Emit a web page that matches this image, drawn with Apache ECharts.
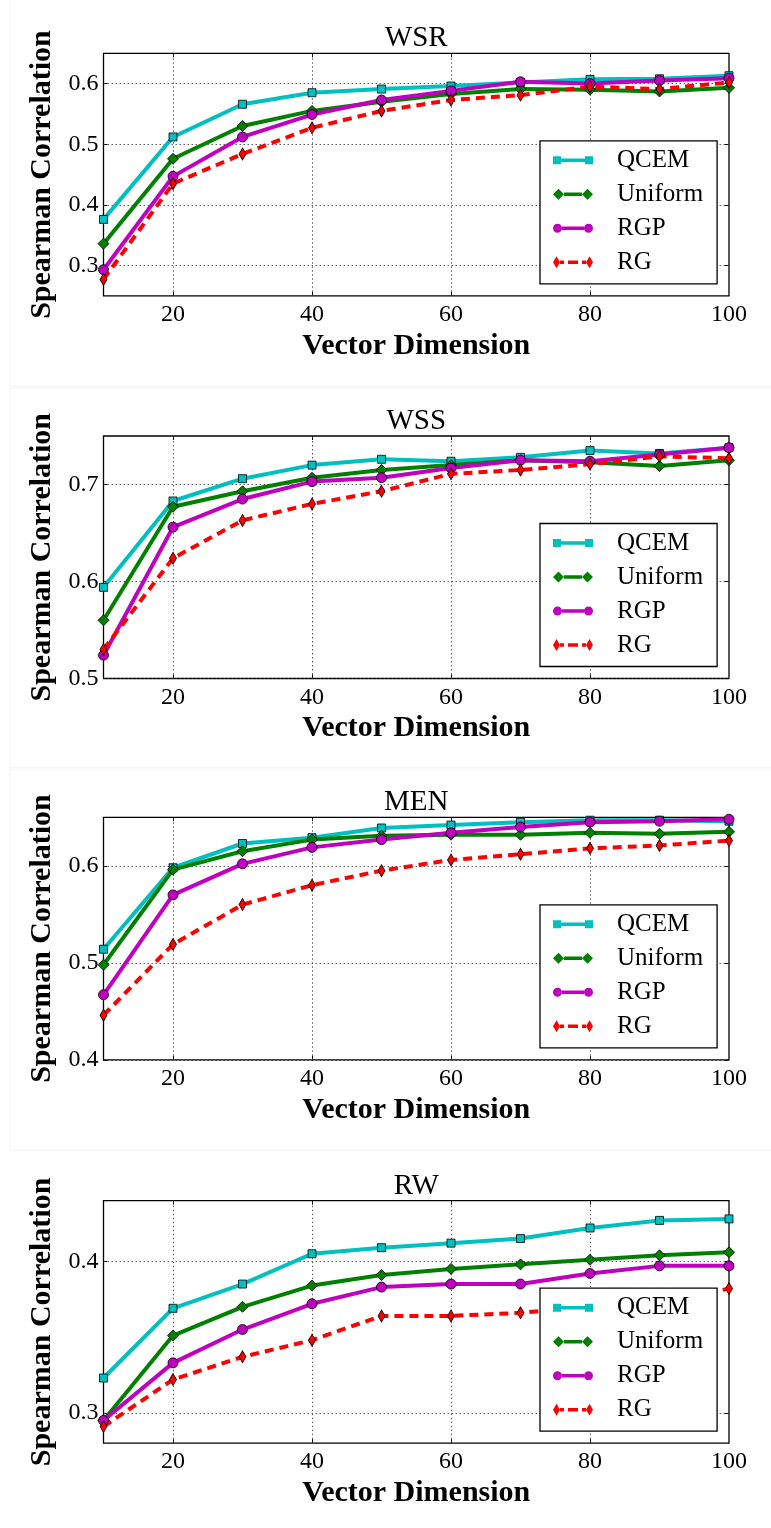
<!DOCTYPE html>
<html><head><meta charset="utf-8">
<script src="https://cdn.jsdelivr.net/npm/echarts@6/dist/echarts.min.js"></script>
<style>html,body{margin:0;padding:0;background:#fff}#c{width:771px;height:1528px}</style>
</head><body><div id="c"></div>
<script>
// ---------- data ----------
const dims = [10, 20, 30, 40, 50, 60, 70, 80, 90, 100];
const panelTitles = ['WSR', 'WSS', 'MEN', 'RW'];
const seriesNames = ['QCEM', 'Uniform', 'RGP', 'RG'];
const xTicks = [20, 40, 60, 80, 100];

const wsrQCEM    = [0.376, 0.512, 0.566, 0.585, 0.591, 0.596, 0.602, 0.607, 0.608, 0.613];
const wsrUniform = [0.336, 0.476, 0.530, 0.555, 0.570, 0.583, 0.591, 0.590, 0.587, 0.593];
const wsrRGP     = [0.293, 0.447, 0.512, 0.549, 0.573, 0.588, 0.603, 0.600, 0.605, 0.609];
const wsrRG      = [0.277, 0.435, 0.484, 0.527, 0.555, 0.573, 0.581, 0.595, 0.591, 0.602];

const wssQCEM    = [0.594, 0.683, 0.706, 0.720, 0.726, 0.724, 0.728, 0.735, 0.732, 0.738];
const wssUniform = [0.560, 0.677, 0.693, 0.707, 0.715, 0.720, 0.725, 0.723, 0.719, 0.725];
const wssRGP     = [0.524, 0.656, 0.685, 0.703, 0.707, 0.717, 0.725, 0.724, 0.731, 0.738];
const wssRG      = [0.530, 0.624, 0.663, 0.680, 0.693, 0.711, 0.715, 0.721, 0.729, 0.727];

const menQCEM    = [0.514, 0.598, 0.623, 0.629, 0.639, 0.642, 0.645, 0.647, 0.647, 0.646];
const menUniform = [0.498, 0.596, 0.615, 0.627, 0.631, 0.632, 0.632, 0.634, 0.633, 0.635];
const menRGP     = [0.467, 0.570, 0.602, 0.619, 0.627, 0.634, 0.640, 0.645, 0.646, 0.648];
const menRG      = [0.446, 0.519, 0.560, 0.580, 0.595, 0.606, 0.612, 0.618, 0.621, 0.626];

const rwQCEM     = [0.323, 0.369, 0.385, 0.405, 0.409, 0.412, 0.415, 0.422, 0.427, 0.428];
const rwUniform  = [0.295, 0.351, 0.370, 0.384, 0.391, 0.395, 0.398, 0.401, 0.404, 0.406];
const rwRGP      = [0.295, 0.333, 0.355, 0.372, 0.383, 0.385, 0.385, 0.392, 0.397, 0.397];
const rwRG       = [0.291, 0.322, 0.337, 0.348, 0.364, 0.364, 0.366, 0.370, 0.373, 0.382];

const yMins = [0.25, 0.5, 0.4, 0.28];
const yMaxs = [0.65, 0.75, 0.65, 0.44];
const ySteps = [0.05, 0.05, 0.05, 0.02];
const yTicksWSR = [0.3, 0.4, 0.5, 0.6];
const yTicksWSS = [0.5, 0.6, 0.7];
const yTicksMEN = [0.4, 0.5, 0.6];
const yTicksRW  = [0.3, 0.4];

// ---------- build ----------
const panelData = [
  [wsrQCEM, wsrUniform, wsrRGP, wsrRG],
  [wssQCEM, wssUniform, wssRGP, wssRG],
  [menQCEM, menUniform, menRGP, menRG],
  [rwQCEM, rwUniform, rwRGP, rwRG]
];
const panelYTicks = [yTicksWSR, yTicksWSS, yTicksMEN, yTicksRW];

const FONT = '"Liberation Serif", "DejaVu Serif", serif';
const colors = ['#00BFBF', '#008000', '#BF00BF', '#FF0000'];
const symbols = ['rect', 'diamond', 'circle', 'diamond'];
const symSizes = [8, 11, 10, [7, 12]];
const lineTypes = ['solid', 'solid', 'solid', [9, 6]];
const icons = [
  'path://M0 0h8v8h-8z M32 0h8v8h-8z M8 2.2h24v3.6h-24z',
  'path://M0 5.5L5.5 0L11 5.5L5.5 11Z M29 5.5L34.5 0L40 5.5L34.5 11Z M11 3.7h18v3.6h-18z',
  'path://M0 4.5a4.5 4.5 0 1 0 9 0a4.5 4.5 0 1 0 -9 0Z M31 4.5a4.5 4.5 0 1 0 9 0a4.5 4.5 0 1 0 -9 0Z M9 2.7h22v3.6h-22z',
  'path://M0 6L3.5 0L7 6L3.5 12Z M33 6L36.5 0L40 6L36.5 12Z M7 4.2h4v3.6h-4z M15 4.2h10v3.6h-10z M29 4.2h4v3.6h-4z'
];

const plotTop = [53.3, 436, 817.3, 1200.7];
const plotH = 242.5;
const gridLeft = 103.5, gridRight = 42;
const plotCenterX = gridLeft + (771 - gridLeft - gridRight) / 2;

const grids = [], xAxes = [], yAxes = [], series = [], legends = [], titles = [];
const isTick = (v, ticks) => ticks.some(t => Math.abs(t - v) < 1e-6);

for (let p = 0; p < 4; p++) {
  const yt = panelYTicks[p];
  grids.push({ left: gridLeft, right: gridRight, top: plotTop[p], height: plotH,
    show: true, borderColor: '#000', borderWidth: 1.3, backgroundColor: 'transparent' });
  titles.push({ text: panelTitles[p], left: plotCenterX, top: plotTop[p] - 29, textAlign: 'center', padding: 0,
    textStyle: { fontFamily: FONT, fontSize: 29, fontWeight: 'normal', color: '#000' } });

  const xCommon = { gridIndex: p, type: 'value', min: 10, max: 100, interval: 10,
    splitLine: { show: false }, axisLine: { show: false },
    axisTick: { show: true, inside: true, length: 4, customValues: xTicks.slice(0, 4), lineStyle: { color: '#000', width: 1 } } };
  xAxes.push(Object.assign({}, xCommon, {
    position: 'bottom',
    axisLabel: { show: true, margin: 7, fontFamily: FONT, fontSize: 24, color: '#000',
      formatter: v => (isTick(v, xTicks) ? String(v) : '') },
    name: 'Vector Dimension', nameLocation: 'middle', nameGap: 35,
    nameTextStyle: { fontFamily: FONT, fontSize: 30, fontWeight: 'bold', color: '#000' }
  }));
  xAxes.push(Object.assign({}, xCommon, { position: 'top', axisLabel: { show: false } }));

  const yCommon = { gridIndex: p, type: 'value', min: yMins[p], max: yMaxs[p], interval: ySteps[p],
    splitLine: { show: false }, axisLine: { show: false },
    axisTick: { show: true, inside: true, length: 4, customValues: yt, lineStyle: { color: '#000', width: 1 } } };
  yAxes.push(Object.assign({}, yCommon, {
    position: 'left',
    axisLabel: { show: true, margin: 5, fontFamily: FONT, fontSize: 24, color: '#000',
      formatter: v => (isTick(v, yt) ? v.toFixed(1) : '') },
    name: 'Spearman Correlation', nameLocation: 'middle', nameGap: 46,
    nameTextStyle: { fontFamily: FONT, fontSize: 30, fontWeight: 'bold', color: '#000' }
  }));
  yAxes.push(Object.assign({}, yCommon, { position: 'right', axisLabel: { show: false } }));

  // gridlines (dotted) via markLine on a helper series
  series.push({
    name: 'gridlines' + p, type: 'line', xAxisIndex: 2 * p, yAxisIndex: 2 * p, data: [],
    silent: true, z: 1,
    markLine: { silent: true, z: 1, symbol: ['none', 'none'], label: { show: false },
      lineStyle: { color: '#333', width: 0.8, type: [1.5, 2.5] }, emphasis: { disabled: true },
      data: xTicks.slice(0, 4).map(v => ({ xAxis: v })).concat(yt.map(v => ({ yAxis: v }))) }
  });

  for (let s = 0; s < 4; s++) {
    series.push({
      name: seriesNames[s], type: 'line', xAxisIndex: 2 * p, yAxisIndex: 2 * p,
      data: dims.map((d, k) => [d, panelData[p][s][k]]),
      symbol: symbols[s], symbolSize: symSizes[s], showSymbol: true, z: 3,
      lineStyle: { color: colors[s], width: 4, type: lineTypes[s] },
      itemStyle: { color: colors[s], borderColor: '#000', borderWidth: 0.8 },
      emphasis: { disabled: true }
    });
  }

  legends.push({
    orient: 'vertical', left: 540, top: plotTop[p] + plotH - 12 - 143,
    itemWidth: 40, itemHeight: 12, itemGap: 9, selectedMode: false,
    backgroundColor: '#fff', borderColor: '#000', borderWidth: 1.3, borderRadius: 0,
    padding: [7, 14, 9, 13], z: 10,
    itemStyle: { borderWidth: 0 },
    textStyle: { fontFamily: FONT, fontSize: 25, color: '#000', lineHeight: 25, padding: [0, 0, 0, 19] },
    data: seriesNames.map((n, i) => ({ name: n, icon: icons[i], itemStyle: { color: colors[i], borderWidth: 0 } }))
  });
}

// faint panel frames
const frames = [[10, -2, 765, 388], [10, 388, 765, 380], [10, 770, 765, 380]].map(r => ({
  type: 'rect', shape: { x: r[0], y: r[1], width: r[2], height: r[3] }, silent: true, z: -1,
  style: { fill: 'none', stroke: '#f3f3f3', lineWidth: 1 }
}));

const chart = echarts.init(document.getElementById('c'), null, { renderer: 'canvas' });
chart.setOption({
  animation: false,
  backgroundColor: '#fff',
  title: titles, grid: grids, xAxis: xAxes, yAxis: yAxes, legend: legends, series: series,
  graphic: frames
});
</script></body></html>
